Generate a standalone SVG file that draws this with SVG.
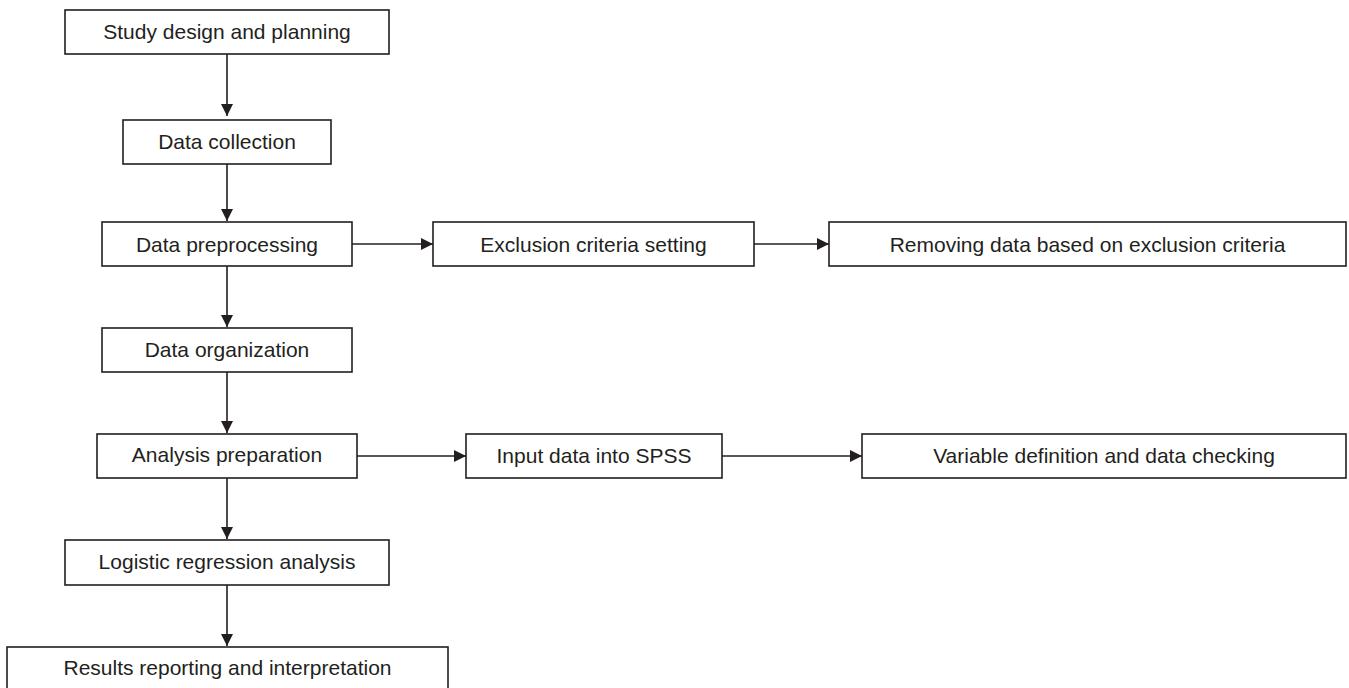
<svg xmlns="http://www.w3.org/2000/svg" width="1349" height="688" viewBox="0 0 1349 688">
  <style>
    .box { fill: #ffffff; stroke: #231f20; stroke-width: 1.6; }
    .lbl { font-family: "Liberation Sans", Arial, sans-serif; font-size: 21px; fill: #231f20; text-anchor: middle; }
    .conn { stroke: #231f20; stroke-width: 1.6; fill: none; marker-end: url(#arrow); }
  </style>
  <defs>
    <marker id="arrow" markerUnits="userSpaceOnUse" markerWidth="12" markerHeight="12" viewBox="0 0 12 12" refX="12" refY="6" orient="auto">
      <path d="M0,0 L12,6 L0,12 z" fill="#231f20"/>
    </marker>
  </defs>
  <rect width="1349" height="688" fill="#ffffff"/>

  <g id="connectors">
    <line class="conn" x1="227" y1="54" x2="227" y2="116"/>
    <line class="conn" x1="227" y1="164" x2="227" y2="221"/>
    <line class="conn" x1="227" y1="266" x2="227" y2="327"/>
    <line class="conn" x1="227" y1="372" x2="227" y2="433"/>
    <line class="conn" x1="227" y1="478" x2="227" y2="539"/>
    <line class="conn" x1="227" y1="585" x2="227" y2="646"/>
    <line class="conn" x1="352" y1="244" x2="433" y2="244"/>
    <line class="conn" x1="754" y1="244" x2="829" y2="244"/>
    <line class="conn" x1="357" y1="456" x2="466" y2="456"/>
    <line class="conn" x1="722" y1="456" x2="862" y2="456"/>
  </g>

  <g id="study-design">
    <rect class="box" x="65" y="10" width="324" height="44"/>
    <text class="lbl" x="227" y="38.5">Study design and planning</text>
  </g>
  <g id="data-collection">
    <rect class="box" x="123" y="120" width="208" height="44"/>
    <text class="lbl" x="227" y="149">Data collection</text>
  </g>
  <g id="data-preprocessing">
    <rect class="box" x="102" y="222" width="250" height="44"/>
    <text class="lbl" x="227" y="251.5">Data preprocessing</text>
  </g>
  <g id="exclusion-criteria">
    <rect class="box" x="433" y="222" width="321" height="44"/>
    <text class="lbl" x="593.5" y="251.5">Exclusion criteria setting</text>
  </g>
  <g id="removing-data">
    <rect class="box" x="829" y="222" width="517" height="44"/>
    <text class="lbl" x="1087.5" y="251.5">Removing data based on exclusion criteria</text>
  </g>
  <g id="data-organization">
    <rect class="box" x="102" y="328" width="250" height="44"/>
    <text class="lbl" x="227" y="356.5">Data organization</text>
  </g>
  <g id="analysis-preparation">
    <rect class="box" x="97" y="434" width="260" height="44"/>
    <text class="lbl" x="227" y="462">Analysis preparation</text>
  </g>
  <g id="input-spss">
    <rect class="box" x="466" y="434" width="256" height="44"/>
    <text class="lbl" x="594" y="462.5">Input data into SPSS</text>
  </g>
  <g id="variable-definition">
    <rect class="box" x="862" y="434" width="484" height="44"/>
    <text class="lbl" x="1104" y="462.5">Variable definition and data checking</text>
  </g>
  <g id="logistic-regression">
    <rect class="box" x="65" y="540" width="324" height="45"/>
    <text class="lbl" x="227" y="568.5">Logistic regression analysis</text>
  </g>
  <g id="results-reporting">
    <rect class="box" x="7" y="647" width="441" height="50"/>
    <text class="lbl" x="227.5" y="674.5">Results reporting and interpretation</text>
  </g>
</svg>
